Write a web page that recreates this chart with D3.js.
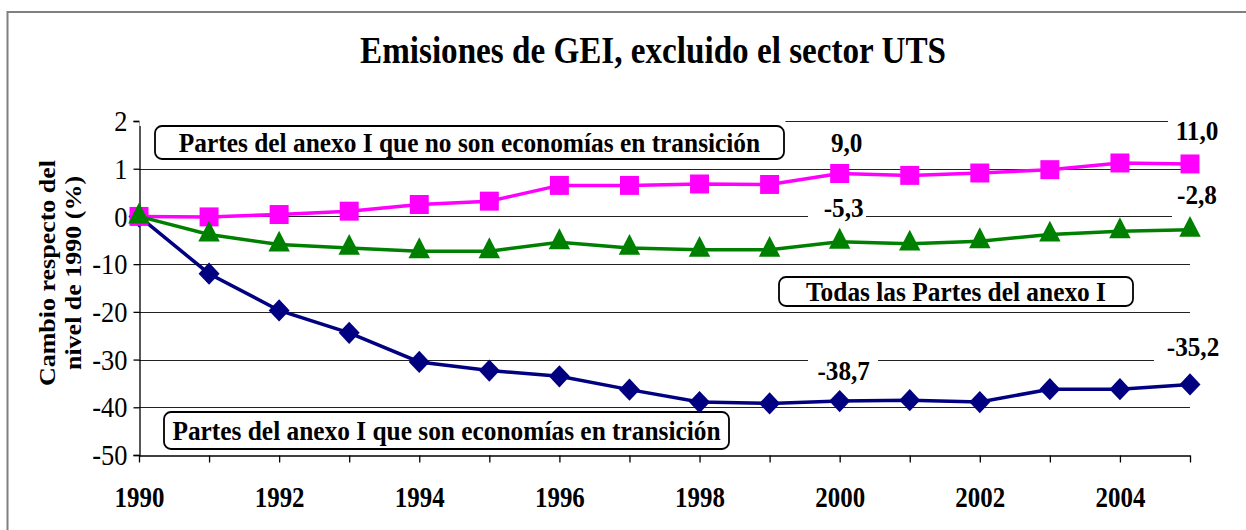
<!DOCTYPE html>
<html>
<head>
<meta charset="utf-8">
<script src="https://cdn.jsdelivr.net/npm/d3@7"></script>
<style>
  body { margin: 0; background: #fff; }
  svg text { font-family: "Liberation Serif", "Times New Roman", serif; }
</style>
</head>
<body>
<div id="chart"></div>
<script>
// Emisiones de GEI, excluido el sector UTS

const years = d3.range(1990, 2006);
const noEit = [0, -0.1, 0.4, 1.1, 2.5, 3.2, 6.5, 6.5, 6.8, 6.7, 9.0, 8.6, 9.1, 9.8, 11.2, 11.0];
const allAnnexI = [0, -3.8, -5.9, -6.6, -7.3, -7.3, -5.4, -6.6, -7.0, -7.0, -5.3, -5.7, -5.2, -3.8, -3.1, -2.8];
const eit = [0, -12.0, -19.7, -24.4, -30.5, -32.3, -33.5, -36.3, -38.9, -39.2, -38.7, -38.5, -38.9, -36.2, -36.2, -35.2];

const yTickValues = [20, 10, 0, -10, -20, -30, -40, -50];
const yTickLabels = ["2", "1", "0", "-10", "-20", "-30", "-40", "-50"];
const xTickLabels = ["1990", "1992", "1994", "1996", "1998", "2000", "2002", "2004"];

const seriesNames = [
  "Partes del anexo I que no son economías en transición",
  "Todas las Partes del anexo I",
  "Partes del anexo I que son economías en transición"
];

// value labels: series index, year
const valueLabels = [
  { s: 0, year: 2000, text: "9,0" },
  { s: 0, year: 2005, text: "11,0" },
  { s: 1, year: 2000, text: "-5,3" },
  { s: 1, year: 2005, text: "-2,8" },
  { s: 2, year: 2000, text: "-38,7" },
  { s: 2, year: 2005, text: "-35,2" }
];

const width = 1246;
const height = 530;

const svg = d3.select("#chart")
  .append("svg")
  .attr("width", width)
  .attr("height", height);

// outer frame
svg.append("rect")
  .attr("x", 7.5)
  .attr("y", 12)
  .attr("width", 1300)
  .attr("height", 600)
  .attr("fill", "none")
  .attr("stroke", "#808080")
  .attr("stroke-width", 2);

const x = d3.scaleLinear().domain([1990, 2005]).range([139, 1190]);
const y = d3.scaleLinear().domain([-50, 20]).range([455, 121]);

// the original picture is a bit narrow, so text gets squeezed sideways
function placeText(sel, px, py, sx) {
  sel.attr("x", 0).attr("y", 0)
    .attr("transform", `translate(${px},${py}) scale(${sx},1)`);
}

// title
svg.append("text")
  .call(placeText, 653, 63, 0.85)
  .attr("text-anchor", "middle")
  .attr("font-size", "39px")
  .attr("font-weight", "bold")
  .text("Emisiones de GEI, excluido el sector UTS");

// gridlines
svg.append("g")
  .selectAll("line")
  .data(yTickValues.slice(0, -1))
  .enter()
  .append("line")
  .attr("x1", 139)
  .attr("x2", 1190)
  .attr("y1", d => Math.round(y(d)) + 0.5)
  .attr("y2", d => Math.round(y(d)) + 0.5)
  .attr("stroke", "#222")
  .attr("stroke-width", 1.2);

// y axis
const yAxis = d3.axisLeft(y)
  .tickValues(yTickValues)
  .tickFormat((d, i) => yTickLabels[i])
  .tickSize(6)
  .tickPadding(3);

const gy = svg.append("g")
  .attr("transform", "translate(139.5,0)")
  .call(yAxis);
gy.select(".domain").attr("stroke", "#000").attr("stroke-width", 1.3);
gy.selectAll(".tick line").attr("stroke", "#000").attr("stroke-width", 1.3);
gy.selectAll(".tick text")
  .attr("x", 0)
  .attr("transform", "translate(-12,0) scale(0.88,1)")
  .attr("font-family", "Liberation Serif, Times New Roman, serif")
  .attr("font-size", "30px")
  .attr("fill", "#000");

// x axis
const xAxis = d3.axisBottom(x)
  .tickValues(years)
  .tickFormat(d => xTickLabels.includes(String(d)) ? String(d) : "")
  .tickSize(7)
  .tickPadding(24)
  .tickSizeOuter(0);

const gx = svg.append("g")
  .attr("transform", "translate(0,455.5)")
  .call(xAxis);
gx.select(".domain").attr("stroke", "#000").attr("stroke-width", 1.3);
gx.selectAll(".tick line").attr("stroke", "#000").attr("stroke-width", 1.3);
gx.selectAll(".tick text")
  .attr("transform", "scale(0.86,1)")
  .attr("font-family", "Liberation Serif, Times New Roman, serif")
  .attr("font-size", "29px")
  .attr("font-weight", "bold")
  .attr("fill", "#000");

// y axis title
const yTitle = svg.append("text")
  .attr("transform", "translate(61,273) scale(0.85,1) rotate(-90)")
  .attr("text-anchor", "middle")
  .attr("font-size", "26px")
  .attr("font-weight", "bold");
yTitle.append("tspan").attr("x", 0).attr("dy", "-0.27em").text("Cambio respecto del");
yTitle.append("tspan").attr("x", 0).attr("dy", "1.17em").text("nivel de 1990 (%)");

// white boxes behind labels (hide gridlines)
const masks = [
  [139.5, 114, 646, 12],
  [808, 196, 58, 26],
  [1172, 188, 60, 32],
  [1168, 112, 70, 34],
  [808, 356, 70, 30],
  [1154, 332, 80, 32]
];
svg.append("g")
  .selectAll("rect")
  .data(masks)
  .enter()
  .append("rect")
  .attr("x", d => d[0])
  .attr("y", d => d[1])
  .attr("width", d => d[2])
  .attr("height", d => d[3])
  .attr("fill", "#fff");

// legend boxes
const legendBoxes = [
  { x: 155, y: 126, w: 629, h: 33 },
  { x: 779, y: 277, w: 354, h: 29 },
  { x: 164, y: 412, w: 565, h: 37 }
];
const lg = svg.append("g")
  .selectAll("g")
  .data(legendBoxes)
  .enter()
  .append("g");
lg.append("rect")
  .attr("x", d => d.x)
  .attr("y", d => d.y)
  .attr("width", d => d.w)
  .attr("height", d => d.h)
  .attr("rx", 7)
  .attr("fill", "#fff")
  .attr("stroke", "#000")
  .attr("stroke-width", 1.8);
lg.append("text")
  .each(function(d) {
    d3.select(this).call(placeText, d.x + d.w / 2, d.y + d.h / 2 + 9, 0.94);
  })
  .attr("text-anchor", "middle")
  .attr("font-size", "27px")
  .attr("font-weight", "bold")
  .text((d, i) => seriesNames[i]);

// series
const series = [
  { values: eit, color: "#000080", shape: "diamond" },
  { values: noEit, color: "#FF00FF", shape: "square" },
  { values: allAnnexI, color: "#008000", shape: "triangle" }
];

const line = d3.line()
  .x((d, i) => x(years[i]))
  .y(d => y(d));

const symbolFor = {
  square: d3.symbol().type(d3.symbolSquare).size(360),
  triangle: d3.symbol().type(d3.symbolTriangle).size(200),
  diamond: d3.symbol().type(d3.symbolSquare).size(220)
};
const symbolTransform = {
  square: "",
  triangle: " scale(1,1.12)",
  diamond: " scale(1,1.06) rotate(45)"
};

series.forEach(s => {
  svg.append("path")
    .datum(s.values)
    .attr("d", line)
    .attr("fill", "none")
    .attr("stroke", s.color)
    .attr("stroke-width", 3.5);

  svg.append("g")
    .selectAll("path")
    .data(s.values)
    .enter()
    .append("path")
    .attr("transform", (d, i) => `translate(${x(years[i])},${y(d)})` + symbolTransform[s.shape])
    .attr("d", symbolFor[s.shape]())
    .attr("fill", s.color);
});

// value labels
const seriesValues = [noEit, allAnnexI, eit];
const labelOffsets = [
  { dx: 7, dy: -21 },
  { dx: 7, dy: -24 },
  { dx: 4, dy: -25 },
  { dx: 7, dy: -26 },
  { dx: 4, dy: -21 },
  { dx: 3, dy: -28 }
];
svg.append("g")
  .selectAll("text")
  .data(valueLabels)
  .enter()
  .append("text")
  .each(function(d, i) {
    const px = x(d.year) + labelOffsets[i].dx;
    const py = y(seriesValues[d.s][years.indexOf(d.year)]) + labelOffsets[i].dy;
    d3.select(this).call(placeText, px, py, 0.9);
  })
  .attr("text-anchor", "middle")
  .attr("font-size", "28px")
  .attr("font-weight", "bold")
  .text(d => d.text);
</script>
</body>
</html>
